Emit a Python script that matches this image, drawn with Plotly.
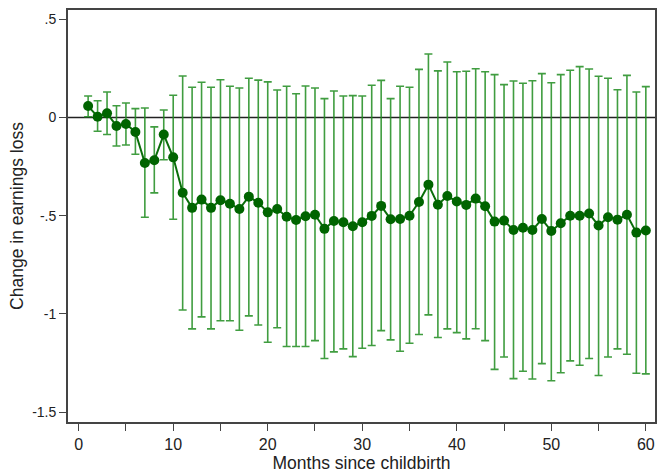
import plotly.graph_objects as go

months = list(range(1, 61))
estimate = [0.058, 0.004, 0.021, -0.043, -0.033, -0.074, -0.232, -0.218, -0.087, -0.203,
            -0.383, -0.46, -0.418, -0.46, -0.421, -0.439, -0.466, -0.403, -0.434, -0.483,
            -0.466, -0.505, -0.522, -0.503, -0.495, -0.567, -0.527, -0.533, -0.554, -0.533,
            -0.501, -0.45, -0.518, -0.517, -0.5, -0.43, -0.342, -0.444, -0.4, -0.428,
            -0.445, -0.413, -0.452, -0.53, -0.525, -0.573, -0.561, -0.573, -0.517, -0.578,
            -0.538, -0.5, -0.5, -0.489, -0.55, -0.508, -0.52, -0.495, -0.586, -0.575]
ci_upper = [0.109, 0.085, 0.13, 0.06, 0.074, 0.045, 0.048, -0.048, 0.038, 0.113,
            0.211, 0.154, 0.179, 0.154, 0.192, 0.159, 0.15, 0.2, 0.19, 0.181,
            0.14, 0.159, 0.121, 0.16, 0.15, 0.096, 0.135, 0.109, 0.111, 0.109,
            0.164, 0.189, 0.096, 0.159, 0.154, 0.245, 0.323, 0.237, 0.282, 0.233,
            0.235, 0.248, 0.233, 0.218, 0.167, 0.186, 0.174, 0.187, 0.223, 0.177,
            0.218, 0.24, 0.259, 0.247, 0.21, 0.2, 0.141, 0.214, 0.13, 0.157]
ci_lower = [0.004, -0.07, -0.087, -0.145, -0.14, -0.187, -0.508, -0.384, -0.215, -0.518,
            -0.98, -1.076, -1.015, -1.076, -1.035, -1.035, -1.083, -1.01, -1.056, -1.144,
            -1.07, -1.166, -1.166, -1.166, -1.136, -1.227, -1.193, -1.178, -1.217, -1.175,
            -1.161, -1.085, -1.132, -1.19, -1.149, -1.105, -1.005, -1.12, -1.076, -1.095,
            -1.127, -1.075, -1.136, -1.282, -1.219, -1.329, -1.292, -1.331, -1.253, -1.34,
            -1.299, -1.239, -1.261, -1.227, -1.313, -1.219, -1.178, -1.205, -1.302, -1.305]

x_tickvals = list(range(0, 61, 5))
x_ticktext = [str(v) if v % 10 == 0 else "" for v in x_tickvals]
y_tickvals = [0.5, 0, -0.5, -1, -1.5]
y_ticktext = [".5", "0", "-.5", "-1", "-1.5"]

err_plus = [u - e for u, e in zip(ci_upper, estimate)]
err_minus = [e - l for e, l in zip(estimate, ci_lower)]

fig = go.Figure()
fig.add_trace(go.Scatter(
    x=months, y=estimate, mode="lines+markers",
    line=dict(color="#0a6e0a", width=2),
    marker=dict(color="#006400", size=10),
    error_y=dict(type="data", symmetric=False, array=err_plus, arrayminus=err_minus,
                 color="rgba(30,140,30,0.85)", thickness=1.6, width=4),
    showlegend=False,
))
fig.add_hline(y=0, line=dict(color="#222222", width=1.5), layer="below")

font_family = "Liberation Sans, Arial, sans-serif"
fig.update_layout(
    width=658, height=473,
    margin=dict(l=68, r=1, t=10, b=51),
    plot_bgcolor="white", paper_bgcolor="white",
    font=dict(family=font_family, color="#222222", size=14),
    xaxis=dict(range=[-1.13, 60.97], tickvals=x_tickvals, ticktext=x_ticktext,
               ticks="outside", ticklen=7, tickcolor="#444", showgrid=False, zeroline=False,
               showline=True, linecolor="#444", linewidth=1.8, mirror=True,
               title=dict(text="Months since childbirth", standoff=0, font=dict(size=17.5)),
               tickfont=dict(size=16)),
    yaxis=dict(range=[-1.55, 0.547], tickvals=y_tickvals, ticktext=y_ticktext,
               ticks="outside", ticklen=7, tickcolor="#444", showgrid=False, zeroline=False,
               showline=True, linecolor="#444", linewidth=1.8, mirror=True,
               title=dict(text="Change in earnings loss", standoff=4, font=dict(size=17.5)),
               tickfont=dict(size=14)),
)
fig.write_html("out.html")
